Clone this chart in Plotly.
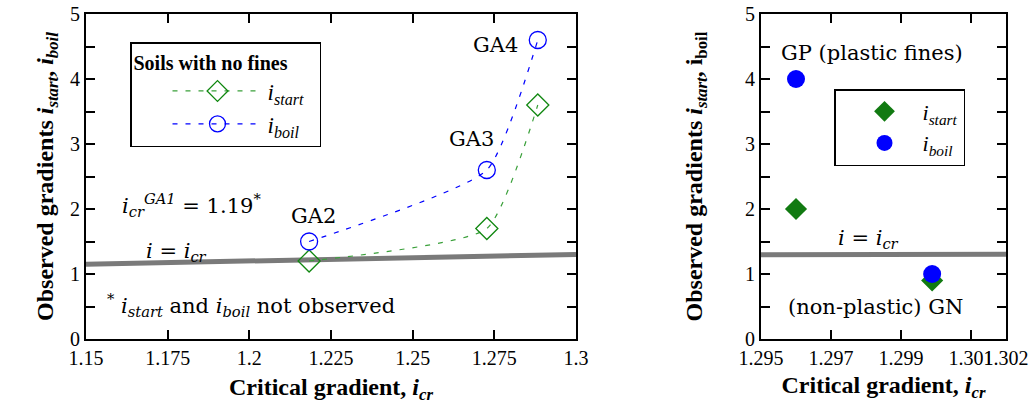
import plotly.graph_objects as go

# ---- data ----
soil_names = ["GA2", "GA3", "GA4"]
icr_nofines = [1.2183, 1.2727, 1.2883]
istart_nofines = [1.2, 1.7, 3.6]
iboil_nofines = [1.5, 2.6, 4.6]

icr_fines = [1.296, 1.29989]
istart_fines = [2.0, 0.9]
iboil_fines = [4.0, 1.0]

line_left_x = [1.15, 1.30]
line_right_x = [1.295, 1.302]

left_xticks = [1.15, 1.175, 1.2, 1.225, 1.25, 1.275, 1.3]
left_xtext = ["1.15", "1.175", "1.2", "1.225", "1.25", "1.275", "1.3"]
right_xticks = [1.295, 1.297, 1.299, 1.301, 1.302]
right_xtext = ["1.295", "1.297", "1.299", "1.301", "1.302"]

SERIF = "Liberation Serif"
ANN = "DejaVu Serif"
GREEN_LINE = "#3aa03a"
GREEN = "#118811"
BLUE = "#0000ff"
GRAY = "#7a7a7a"

fig = go.Figure()

# ---- left panel ----
fig.add_trace(go.Scatter(x=line_left_x, y=line_left_x, mode="lines",
                         line=dict(color=GRAY, width=5), showlegend=False,
                         xaxis="x", yaxis="y"))
fig.add_trace(go.Scatter(x=icr_nofines, y=istart_nofines, mode="lines+markers",
                         name="<i>i<sub>start</sub></i>",
                         line=dict(color=GREEN_LINE, width=1.2, dash="5px,8px", shape="spline", smoothing=0.5),
                         marker=dict(symbol="diamond-open", size=17, color=GREEN, line=dict(width=1.3, color=GREEN)),
                         xaxis="x", yaxis="y", legend="legend"))
fig.add_trace(go.Scatter(x=icr_nofines, y=iboil_nofines, mode="lines+markers",
                         name="<i>i<sub>boil</sub></i>",
                         line=dict(color=BLUE, width=1.2, dash="5px,8px", shape="spline", smoothing=0.5),
                         marker=dict(symbol="circle-open", size=17, color=BLUE, line=dict(width=1.3, color=BLUE)),
                         xaxis="x", yaxis="y", legend="legend"))

# ---- right panel ----
fig.add_trace(go.Scatter(x=line_right_x, y=line_right_x, mode="lines",
                         line=dict(color=GRAY, width=5), showlegend=False,
                         xaxis="x2", yaxis="y2"))
fig.add_trace(go.Scatter(x=icr_fines, y=istart_fines, mode="markers",
                         name="<i>i<sub>start</sub></i>",
                         marker=dict(symbol="diamond", size=17, color="#117a11"),
                         xaxis="x2", yaxis="y2", legend="legend2"))
fig.add_trace(go.Scatter(x=icr_fines, y=iboil_fines, mode="markers",
                         name="<i>i<sub>boil</sub></i>",
                         marker=dict(symbol="circle", size=18, color=BLUE),
                         xaxis="x2", yaxis="y2", legend="legend2"))

axis_common = dict(showline=True, linecolor="black", linewidth=2, mirror="ticks",
                   ticks="inside", ticklen=9, tickwidth=1.5, tickcolor="black",
                   showgrid=False, zeroline=False,
                   tickfont=dict(family=SERIF, size=20, color="black"))
minor_y = dict(tickvals=[0.5, 1.5, 2.5, 3.5, 4.5], ticks="inside", ticklen=9, tickwidth=1.5, tickcolor="black")

yd = [(410 - 339) / 410, (410 - 14) / 410]

fig.update_layout(
    width=1036, height=410,
    margin=dict(l=0, r=0, t=0, b=0),
    paper_bgcolor="white", plot_bgcolor="white",
    font=dict(family=SERIF, color="black"),
    xaxis=dict(domain=[86 / 1036, 576 / 1036], range=[1.15, 1.30],
               tickvals=left_xticks, ticktext=left_xtext, tickangle=0,
               title=dict(text="<b>Critical gradient, <i>i<sub>cr</sub></i></b>",
                          font=dict(family=SERIF, size=24), standoff=10),
               automargin=False, anchor="y", **axis_common),
    yaxis=dict(domain=yd, range=[0, 5], tickvals=[0, 1, 2, 3, 4, 5], minor=minor_y,
               title=dict(text="<b>Observed gradients <i>i<sub>start</sub></i>, <i>i<sub>boil</sub></i></b>",
                          font=dict(family=SERIF, size=24), standoff=10),
               automargin=False, anchor="x", **axis_common),
    xaxis2=dict(domain=[761 / 1036, 1006 / 1036], range=[1.295, 1.302],
                tickvals=right_xticks, ticktext=right_xtext, tickangle=0,
                title=dict(text="<b>Critical gradient, <i>i<sub>cr</sub></i></b>",
                           font=dict(family=SERIF, size=24), standoff=8),
                automargin=False, anchor="y2", **axis_common),
    yaxis2=dict(domain=yd, range=[0, 5], tickvals=[0, 1, 2, 3, 4, 5], minor=minor_y,
                title=dict(text="<b>Observed gradients <i>i<sub>start</sub></i>, i<sub>boil</sub></b>",
                           font=dict(family=SERIF, size=24), standoff=36),
                automargin=False, anchor="x2", **axis_common),
    legend=dict(x=130 / 1036, y=1 - 42 / 410, xanchor="left", yanchor="top",
                bgcolor="white", bordercolor="black", borderwidth=1.5,
                title=dict(text="<b>Soils with no fines</b>&nbsp;&nbsp;&nbsp;&nbsp;&nbsp;&nbsp;",
                           font=dict(family=SERIF, size=20)),
                font=dict(family=SERIF, size=23), indentation=36, itemwidth=90,
                tracegroupgap=0),
    legend2=dict(x=834 / 1036, y=1 - 89 / 410, xanchor="left", yanchor="top",
                 bgcolor="white", bordercolor="black", borderwidth=1.5,
                 font=dict(family=SERIF, size=22), indentation=11, itemwidth=66),
)

ann_font = dict(family=ANN, size=21, color="black")
# soil labels placed relative to the i_boil points
label_offsets = [(0.0012, 0.39), (-0.0046, 0.48), (-0.0055, -0.08)]
label_anchor = ["center", "center", "right"]
for name, xv, yv, (dx, dy), xa in zip(soil_names, icr_nofines, iboil_nofines, label_offsets, label_anchor):
    fig.add_annotation(x=xv + dx, y=yv + dy, xref="x", yref="y", text=name, showarrow=False,
                       font=ann_font, xanchor=xa)

fig.add_annotation(x=1.1604, y=2.06, xref="x", yref="y", xanchor="left",
                   text="<i>i<sub>cr</sub><sup>GA1</sup></i> = 1.19<sup>*</sup>", showarrow=False, font=ann_font)
fig.add_annotation(x=1.1678, y=1.34, xref="x", yref="y", xanchor="left",
                   text="<i>i</i> = <i>i<sub>cr</sub></i>", showarrow=False, font=ann_font)
fig.add_annotation(x=1.1558, y=0.52, xref="x", yref="y", xanchor="left",
                   text="<sup>*</sup> <i>i<sub>start</sub></i> and <i>i<sub>boil</sub></i> not observed",
                   showarrow=False, font=ann_font)

fig.add_annotation(x=1.29817, y=4.4, xref="x2", yref="y2", xanchor="center",
                   text="GP (plastic fines)", showarrow=False, font=ann_font)
fig.add_annotation(x=1.29806, y=1.54, xref="x2", yref="y2", xanchor="center",
                   text="<i>i</i> = <i>i<sub>cr</sub></i>", showarrow=False, font=ann_font)
fig.add_annotation(x=1.29826, y=0.49, xref="x2", yref="y2", xanchor="center",
                   text="(non-plastic) GN", showarrow=False, font=ann_font)

fig.write_html("out.html")
